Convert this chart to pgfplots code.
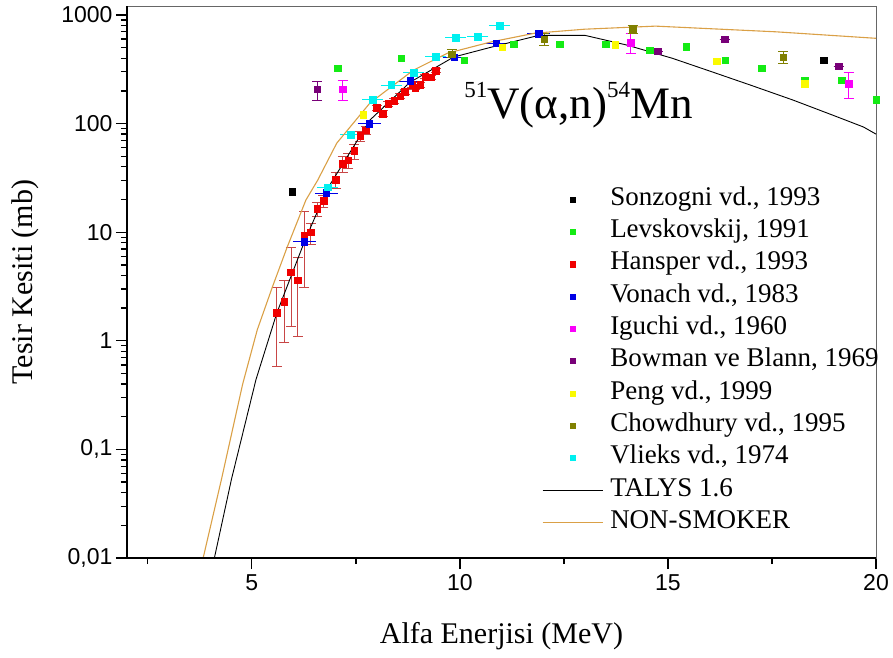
\documentclass[border=0pt]{standalone}
\usepackage{pgfplots}
\pgfplotsset{compat=1.18}
\usepackage{fontspec}
\setmainfont{Liberation Serif}
\newfontfamily\sansf{Liberation Sans}
\definecolor{cgreen}{RGB}{20,235,20}
\definecolor{cred}{RGB}{240,0,0}
\definecolor{credbar}{RGB}{200,70,70}
\definecolor{cblue}{RGB}{0,0,230}
\definecolor{cmag}{RGB}{250,0,250}
\definecolor{cpurp}{RGB}{120,0,120}
\definecolor{cyell}{RGB}{250,250,0}
\definecolor{colive}{RGB}{128,128,0}
\definecolor{ccyan}{RGB}{0,240,240}
\definecolor{cns}{RGB}{218,160,70}

\pgfplotstableread{
x y
5.97 23.5
18.74 385
}\sonzogni

\pgfplotstableread{
x y
7.06 325
8.59 400
10.10 385
11.30 540
12.40 540
13.50 540
14.56 475
15.44 510
16.38 385
17.26 325
18.28 250
19.17 250
20.00 165
}\levs

\pgfplotstableread{
x y ep em
5.60 1.82 1.28 1.24
5.78 2.3 1.3 1.34
5.94 4.3 2.9 2.95
6.10 3.6 2.3 2.5
6.26 9.4 6.0 6.3
6.41 10.0 2.0 2.2
6.57 16.4 2.5 2.5
6.72 19.5 2.5 2.5
7.02 30.5 5 5
7.18 42.5 7 7
7.32 46 7 7
7.46 56 9 9
7.60 77 8 8
7.74 87 8 8
8.00 140 8 8
8.15 124 8 8
8.28 152 8 8
8.42 162 8 8
8.57 179 9 9
8.67 196 10 10
8.85 227 10 10
8.93 215 10 10
9.05 227 10 10
9.17 270 12 12
9.30 267 12 12
9.42 307 14 14
}\hansper

\pgfplotstableread{
x y ex
6.26 8.2 0.2
6.79 23 0.2
7.82 100 0.2
8.81 247 0.2
9.86 407 0.2
10.87 548 0.2
11.89 675 0.2
}\vonach

\pgfplotstableread{
x y ep em
7.18 208 43 43
14.10 555 115 110
19.34 234 61 63
}\iguchi

\pgfplotstableread{
x y ep em
6.57 207 39 44
14.76 465 0 0
16.36 600 0 0
19.10 339 0 0
}\bowman

\pgfplotstableread{
x y
7.68 120
11.02 505
13.73 530
16.17 377
18.28 234
}\peng

\pgfplotstableread{
x y ep em
9.81 436 47 29
12.03 600 77 73
14.15 740 70 60
17.77 407 53 47
}\chowdhury

\pgfplotstableread{
x y ex
6.83 26 0.18
7.38 79 0.18
7.90 167 0.18
8.35 227 0.18
8.89 295 0.18
9.42 412 0.18
9.90 620 0.18
10.43 630 0.18
10.95 800 0.18
}\vlieks

\pgfplotstableread{
x y
4.10 0.01
4.51 0.053
5.10 0.44
5.60 1.8
6.26 8.1
6.80 24.5
7.84 108
8.80 240
9.85 410
10.75 505
11.90 650
13.00 650
14.00 530
15.10 400
16.00 305
17.00 225
18.00 165
19.00 118
19.70 93
20.00 80
}\talys

\pgfplotstableread{
x y
3.83 0.01
4.27 0.053
4.78 0.40
5.13 1.26
5.49 3.1
5.85 7.3
6.30 19.8
6.58 30
7.04 66
7.84 155
8.88 310
9.70 445
10.75 565
11.80 680
13.00 740
14.70 790
17.60 700
20.00 610
}\nonsmoker

\begin{document}
\begin{tikzpicture}
\begin{axis}[name=ax, scale only axis, width=749pt, height=552pt,
  ymode=log, xmin=2, xmax=20, ymin=0.01, ymax=1210,
  clip=false,
  xtick={5,10,15,20}, xticklabels={5,10,15,20},
  minor xtick={2.5,7.5,12.5,17.5},
  ytick={0.01,0.1,1,10,100,1000},
  yticklabels={{0,01},{0,1},1,10,100,1000},
  tick align=outside, xtick pos=bottom, ytick pos=left,
  major tick length=11pt, minor tick length=6pt,
  every tick/.style={black, line width=1.3pt},
  axis line style={black!60, line width=1pt},
  tick label style={font=\sansf\fontsize{23}{23}\selectfont},
  xticklabel style={yshift=-2pt},
  xlabel={Alfa Enerjisi (MeV)}, ylabel={Tesir Kesiti (mb)},
  label style={font=\fontsize{30}{30}\selectfont},
  xlabel style={at={(axis description cs:0.5,-0.1413)}, anchor=center},
  ylabel style={at={(axis description cs:-0.1362,0.5)}, anchor=center},
  legend style={at={(axis description cs:0.554,0.679)}, anchor=north west,
    draw=none, fill=none, inner sep=0pt, row sep=0pt,
    font=\fontsize{27}{32}\selectfont,
    nodes={inner sep=0pt, text height=22pt, text depth=10.3pt},
    /tikz/every odd column/.append style={column sep=7pt}},
  legend cell align=left,
  legend image code/.code={\draw[mark repeat=2,mark phase=2] plot coordinates {(0pt,0pt)(30pt,0pt)(60pt,0pt)};},
  legend image post style={mark size=2.6pt},
  every axis plot/.append style={mark size=3.3pt},
]
\addplot[only marks, mark=square*, black] table[x=x,y=y]{\sonzogni};
\addlegendentry{Sonzogni vd., 1993}
\addplot[only marks, mark=square*, cgreen] table[x=x,y=y]{\levs};
\addlegendentry{Levskovskij, 1991}
\addplot[only marks, mark=square*, cred,
  error bars/.cd, y dir=both, y explicit,
  error bar style={credbar, line width=0.8pt},
  error mark options={rotate=90, mark size=5pt, credbar, line width=0.8pt}]
  table[x=x,y=y,y error plus=ep,y error minus=em]{\hansper};
\addlegendentry{Hansper vd., 1993}
\addplot[only marks, mark=square*, cblue,
  error bars/.cd, x dir=both, x explicit,
  error bar style={cblue, line width=0.8pt},
  error mark options={mark size=3pt, cblue, line width=0.8pt}]
  table[x=x,y=y,x error=ex]{\vonach};
\addlegendentry{Vonach vd., 1983}
\addplot[only marks, mark=square*, cmag,
  error bars/.cd, y dir=both, y explicit,
  error bar style={cmag, line width=0.8pt},
  error mark options={rotate=90, mark size=5pt, cmag, line width=0.8pt}]
  table[x=x,y=y,y error plus=ep,y error minus=em]{\iguchi};
\addlegendentry{Iguchi vd., 1960}
\addplot[only marks, mark=square*, cpurp,
  error bars/.cd, y dir=both, y explicit,
  error bar style={cpurp, line width=0.8pt},
  error mark options={rotate=90, mark size=5pt, cpurp, line width=0.8pt}]
  table[x=x,y=y,y error plus=ep,y error minus=em]{\bowman};
\addlegendentry{Bowman ve Blann, 1969}
\addplot[only marks, mark=square*, cyell] table[x=x,y=y]{\peng};
\addlegendentry{Peng vd., 1999}
\addplot[only marks, mark=square*, colive,
  error bars/.cd, y dir=both, y explicit,
  error bar style={colive, line width=0.8pt},
  error mark options={rotate=90, mark size=5pt, colive, line width=0.8pt}]
  table[x=x,y=y,y error plus=ep,y error minus=em]{\chowdhury};
\addlegendentry{Chowdhury vd., 1995}
\addplot[only marks, mark=square*, ccyan,
  error bars/.cd, x dir=both, x explicit,
  error bar style={ccyan, line width=0.8pt},
  error mark options={mark size=3pt, ccyan, line width=0.8pt}]
  table[x=x,y=y,x error=ex]{\vlieks};
\addlegendentry{Vlieks vd., 1974}
\addplot[no marks, black, line width=0.9pt] table[x=x,y=y]{\talys};
\addlegendentry{TALYS 1.6}
\addplot[no marks, cns, line width=1.1pt] table[x=x,y=y]{\nonsmoker};
\addlegendentry{NON-SMOKER}
\draw[black, line width=2pt] (rel axis cs:0,1) -- (rel axis cs:0,0) -- (rel axis cs:1,0);
\node[anchor=base west, inner sep=0pt, font=\fontsize{45}{45}\selectfont] at (axis cs:10.1,112)
  {\raisebox{21pt}{\fontsize{23}{23}\selectfont 51}V(α,n)\raisebox{21pt}{\fontsize{23}{23}\selectfont 54}Mn};
\end{axis}
\pgfresetboundingbox
\path[use as bounding box] ([shift={(-127pt,-99pt)}]ax.south west) rectangle ([shift={(17pt,6pt)}]ax.north east);
\end{tikzpicture}
\end{document}
